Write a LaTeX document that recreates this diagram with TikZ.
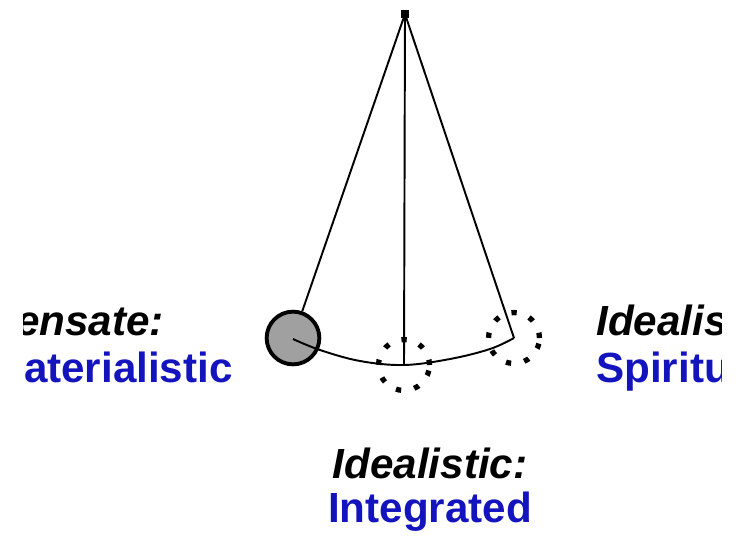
\documentclass[tikz,border=0pt]{standalone}
\usepackage{fontspec}
\setmainfont{Liberation Sans}
\usetikzlibrary{positioning,calc}
\definecolor{labelblue}{RGB}{20,20,190}
\definecolor{bobgray}{RGB}{160,160,160}

\tikzset{
  string/.style={line width=1.1pt},
  bobnode/.style={circle, draw, line width=2.2pt, fill=bobgray, minimum size=30pt, inner sep=0pt},
  ghost/.style={circle, draw, line width=3pt, dash pattern=on 3pt off 7.6pt, minimum size=29pt, inner sep=0pt},
  modename/.style={font=\fontsize{24}{28}\selectfont\bfseries\itshape, inner sep=0pt},
  modekind/.style={font=\fontsize{24}{28}\selectfont\bfseries, text=labelblue, inner sep=0pt}
}

\begin{document}
\begin{tikzpicture}[x=0.02cm, y=-0.02cm]
  \useasboundingbox (0,0) rectangle (751,535);
  \coordinate (pivot) at (405,14);
  \fill (pivot) ++(-4,-4) rectangle ++(8,8);

  \node[bobnode] (bob) at (293,338) {};
  \node[ghost] (mid) at (404,365) {};
  \node[ghost] (right) at (514,338) {};

  \draw[string] (pivot) -- (bob);
  \draw[string] (pivot) -- (mid.center);
  \draw[string] (pivot) -- (right.center);
  \draw[string] plot[smooth, tension=0.6] coordinates {(293,339) (320,350) (360,361) (404,365) (450,359) (490,349) (514,338)};

  \begin{scope}
    \clip (23,0) rectangle (721,535);
    \node[modename, anchor=base east] (sensate) at (164,335) {Sensate:};
    \node[modekind, anchor=base east] (material) at (233,382) {Materialistic};
    \node[modename, anchor=base west] (ideal1) at (596,335) {Idealistic:};
    \node[modekind, anchor=base west] (spirit) at (596,382) {Spiritual};
  \end{scope}
  \node[modename, anchor=base] (ideal2) at (430,478) {Idealistic:};
  \node[modekind, anchor=base] (integ) at (430,522) {Integrated};
\end{tikzpicture}
\end{document}
